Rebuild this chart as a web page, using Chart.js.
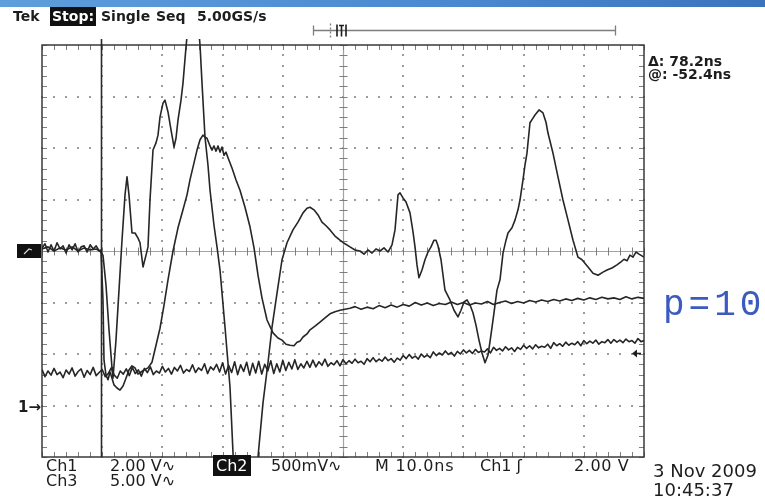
<!DOCTYPE html>
<html>
<head>
<meta charset="utf-8">
<script src="https://cdn.jsdelivr.net/npm/chart.js@4.4.1/dist/chart.umd.min.js"></script>
<style>
  html, body { margin: 0; padding: 0; background: #fff; }
  #scope { position: relative; width: 765px; height: 498px; overflow: hidden; background: #fff; }
  #scope canvas { position: absolute; left: 0; top: 0; }
  #bar { position: absolute; left: 0; top: 0; width: 765px; height: 7px;
         background: linear-gradient(90deg, #5e9edc, #4a88d0 60%, #3b74bd); }
  .t { position: absolute; white-space: nowrap; color: #1d1d1d; line-height: 1; }
  .hdr { font: bold 14px "DejaVu Sans", sans-serif; top: 8px; }
  .inv { background: #111; color: #fff; }
  .ro { font: bold 14px "DejaVu Sans", sans-serif; }
  .bt { font: 16px "DejaVu Sans", sans-serif; }
  .dt { font: 18px "DejaVu Sans", sans-serif; }
  .p10 { font: 36px "Liberation Mono", monospace; color: #3b5bbf; letter-spacing: 4px; }
</style>
</head>
<body>
<div id="scope">
  <canvas id="c" width="765" height="498"></canvas>
  <div id="bar"></div>

  <div class="t hdr" style="left:13px">Tek</div>
  <div class="t hdr inv" style="left:50px;top:7px;padding:1px 2px 2px 2px">Stop:</div>
  <div class="t hdr" style="left:101px">Single</div>
  <div class="t hdr" style="left:156px">Seq</div>
  <div class="t hdr" style="left:197px">5.00GS/s</div>

  <div class="t ro" style="left:648px;top:53px">Δ: 78.2ns</div>
  <div class="t ro" style="left:648px;top:66px">@: -52.4ns</div>

  <div class="t p10" style="left:663px;top:285px">p=10</div>

  <div class="t bt" style="left:46px;top:456px">Ch1</div>
  <div class="t bt" style="left:110px;top:456px">2.00 V∿</div>
  <div class="t bt inv" style="left:213px;top:455px;padding:1px 3px">Ch2</div>
  <div class="t bt" style="left:271px;top:456px">500mV∿</div>
  <div class="t bt" style="left:375px;top:456px;letter-spacing:0.8px">M 10.0ns</div>
  <div class="t bt" style="left:480px;top:456px">Ch1 ʃ</div>
  <div class="t bt" style="left:574px;top:456px;letter-spacing:0.6px">2.00 V</div>
  <div class="t bt" style="left:46px;top:471px">Ch3</div>
  <div class="t bt" style="left:110px;top:471px">5.00 V∿</div>

  <div class="t dt" style="left:653px;top:460px">3 Nov 2009</div>
  <div class="t dt" style="left:653px;top:479px">10:45:37</div>

  <div class="t" style="left:18px;top:398px;font:bold 15px 'DejaVu Sans',sans-serif">1→</div>
</div>

<script>
// ---- Acquisition record (time in ns across the 10 divisions, amplitude in screen divisions) ----

// Channel 1: fast ringing trace
const ch1Time = [0,1,2,3,4,5,6,7,8,9,9.6,10.13,10.63,11.13,11.63,11.79,
  12.29,12.79,13.29,13.79,14.12,14.45,14.95,15.45,15.95,16.28,
  16.78,17.28,17.61,17.94,18.44,18.94,19.27,19.6,20.1,20.43,
  20.93,21.43,21.93,22.26,22.59,23.09,23.42,23.92,24.42,25.08,
  25.75,26.25,26.58,27.08,27.57,27.91,28.57,29.07,29.57,30.4,
  31.23,31.73,32.23,33.89,35.38,35.88,36.71,37.54,38.21,39.04,
  39.87,40.7,41.69,42.52,43.36,44.02,44.52,45.18,45.85,46.51,
  47.18,47.84,48.67,49.5,50.33,51.16,51.99,52.82,53.49,54.15,
  54.82,55.48,56.15,56.81,57.48,58.14,58.64,59.14,59.47,59.97,
  60.47,61.13,61.63,61.96,62.29,62.62,63.12,63.62,64.12,64.62,
  65.12,65.45,65.78,66.28,66.94,67.77,68.44,69.1,69.6,70.1,
  70.6,71.1,71.59,72.09,72.59,73.09,73.59,74.09,74.58,75.08,
  75.58,76.08,76.58,77.08,77.41,78.07,78.57,79.07,79.4,79.9,
  80.23,80.56,81.06,81.56,81.89,82.56,83.22,83.72,84.05,84.88,
  85.71,86.54,87.38,88.21,89.04,89.7,90.7,91.53,92.36,93.19,
  93.85,94.68,95.51,96.18,96.68,97.18,97.67,98.17,98.67,99.17,100];
const ch1Div = [0.04,0.08,0,0.06,0.02,0.08,0,0.06,0.02,0.04,0,-0.08,-0.66,-1.53,-2.27,-2.47,
  -1.73,-0.76,0.21,1.09,1.44,1.09,0.35,0.35,0.25,0.16,
  -0.31,-0.08,0.08,0.99,1.96,2.10,2.25,2.60,2.87,2.93,
  2.70,2.35,2.02,2.19,2.54,2.93,3.26,3.96,4.58,5.07,
  4.68,4.0,3.26,2.21,1.67,1.18,0.50,0.08,-0.37,-1.48,
  -2.64,-3.92,-4.83,-5.61,-4.83,-4.0,-2.95,-2.17,-1.48,-0.82,
  -0.17,0.16,0.41,0.56,0.74,0.83,0.85,0.80,0.70,0.56,
  0.49,0.41,0.29,0.21,0.14,0.08,0.02,0,-0.06,0.02,
  -0.04,0.04,0,0.06,-0.02,0.12,0.41,1.09,1.13,1.03,
  0.95,0.74,0.37,0.08,-0.27,-0.52,-0.37,-0.17,-0.02,0.08,
  0.21,0.21,0.10,-0.17,-0.76,-0.95,-1.15,-1.28,-1.15,-0.99,
  -0.95,-1.05,-1.20,-1.44,-1.73,-1.98,-2.17,-2.02,-1.63,-1.20,
  -0.76,-0.56,-0.04,0.21,0.35,0.45,0.60,0.80,0.99,1.38,
  1.67,1.90,2.49,2.58,2.64,2.74,2.68,2.50,2.29,1.90,
  1.44,0.99,0.60,0.21,-0.12,-0.17,-0.31,-0.43,-0.47,-0.41,
  -0.37,-0.33,-0.27,-0.21,-0.16,-0.19,-0.08,-0.12,-0.02,-0.06,-0.12];

// Channel 2: slower pulse with noisy baseline
const ch2Time = [0,0.5,1,1.5,2,2.5,3,3.5,4,4.5,5,5.5,6,6.5,7,7.5,8,8.5,9,9.5,
  9.8,10.13,10.3,10.63,10.96,11.3,11.63,11.96,12.46,12.96,
  13.46,13.95,14.45,14.95,15.45,15.95,16.45,16.94,17.61,18.27,
  18.94,19.6,20.27,20.93,21.76,22.59,23.42,24.09,24.58,25.25,
  25.75,26.25,26.74,27.08,27.41,27.91,28.24,28.57,28.9,29.24,
  29.57,29.9,30.23,30.56,30.9,31.56,32.23,32.89,33.72,34.55,
  35.22,35.88,36.54,37.38,38.37,39.2,39.87,40.53,41.2,41.86,
  42.36,42.86,43.36,44.02,44.52,45.35,46.18,47.01,47.84,48.67,
  49.5,50.33,51.16,
  52,53,54,55,56,57,58,59,60,61,62,63,64,65,66,67,68,69,70,71,72,73,74,75,76,
  77,78,79,80,81,82,83,84,85,86,87,88,89,90,91,92,93,94,95,96,97,98,99,100];
const ch2Div = [0.06,0.14,-0.02,0.12,0.0,0.16,0.04,0.10,-0.04,0.12,0.02,0.14,-0.02,0.08,0.10,-0.02,0.12,0.04,0.10,0.0,
  0.02,-0.95,-2.12,-2.41,-2.50,-2.35,-2.47,-2.60,-2.66,-2.70,
  -2.62,-2.47,-2.31,-2.23,-2.27,-2.39,-2.35,-2.31,-2.27,-2.16,
  -1.83,-1.50,-1.05,-0.56,0.0,0.45,0.80,1.09,1.38,1.71,
  1.96,2.16,2.25,2.21,2.19,2.04,1.96,2.04,1.94,2.04,
  1.92,2.02,1.86,1.92,1.81,1.61,1.38,1.18,0.85,0.47,
  0.06,-0.47,-0.91,-1.34,-1.59,-1.69,-1.73,-1.81,-1.83,-1.84,
  -1.77,-1.75,-1.67,-1.61,-1.53,-1.46,-1.38,-1.30,-1.22,-1.18,
  -1.15,-1.13,-1.11,
  -1.08,-1.13,-1.09,-1.12,-1.06,-1.10,-1.05,-1.09,-1.04,-1.07,-1.00,-1.05,-1.01,-1.06,-1.02,-1.04,-0.99,-1.04,-1.00,-1.05,-1.01,-1.03,-0.98,-1.04,-1.00,
  -0.97,-1.02,-0.98,-1.01,-0.96,-0.99,-0.95,-0.98,-0.94,-0.97,-0.93,-0.96,-0.92,-0.95,-0.91,-0.94,-0.90,-0.93,-0.91,-0.94,-0.89,-0.93,-0.90,-0.92];

// Channel 3: noisy slow ramp, one sample every 0.5 ns
const ch3SamplePeriod = 0.5;
const ch3Div = [
  -2.30,-2.44,-2.33,-2.41,-2.28,-2.40,-2.35,-2.46,-2.31,-2.39,
  -2.27,-2.43,-2.34,-2.29,-2.45,-2.32,-2.40,-2.26,-2.42,-2.36,
  -2.30,-2.44,-2.38,-2.27,-2.41,-2.47,-2.33,-2.39,-2.29,-2.42,
  -2.26,-2.38,-2.31,-2.43,-2.28,-2.36,-2.25,-2.40,-2.33,-2.37,
  -2.24,-2.35,-2.28,-2.39,-2.26,-2.33,-2.22,-2.37,-2.30,-2.34,
  -2.21,-2.36,-2.27,-2.32,-2.19,-2.38,-2.25,-2.31,-2.20,-2.35,
  -2.17,-2.39,-2.22,-2.36,-2.15,-2.40,-2.21,-2.34,-2.16,-2.41,
  -2.18,-2.37,-2.14,-2.39,-2.20,-2.33,-2.13,-2.38,-2.19,-2.35,
  -2.12,-2.32,-2.16,-2.29,-2.11,-2.30,-2.19,-2.27,-2.14,-2.26,
  -2.12,-2.25,-2.15,-2.22,-2.10,-2.24,-2.17,-2.21,-2.13,-2.23,
  -2.11,-2.19,-2.13,-2.18,-2.10,-2.17,-2.14,-2.20,-2.09,-2.15,
  -2.07,-2.15,-2.10,-2.14,-2.06,-2.13,-2.09,-2.16,-2.08,-2.12,
  -2.03,-2.09,-2.01,-2.08,-2.04,-2.10,-2.00,-2.06,-2.02,-2.07,
  -1.96,-2.03,-1.98,-2.02,-1.94,-2.01,-1.97,-2.04,-1.95,-2.00,
  -1.92,-1.98,-1.93,-1.99,-1.91,-1.97,-1.94,-1.96,-1.90,-1.98,
  -1.87,-1.93,-1.89,-1.94,-1.86,-1.92,-1.88,-1.95,-1.87,-1.91,
  -1.83,-1.89,-1.84,-1.90,-1.82,-1.88,-1.85,-1.87,-1.81,-1.89,
  -1.78,-1.84,-1.80,-1.85,-1.77,-1.83,-1.79,-1.82,-1.76,-1.84,
  -1.74,-1.80,-1.75,-1.79,-1.73,-1.81,-1.76,-1.78,-1.72,-1.79,
  -1.72,-1.77,-1.73,-1.78,-1.71,-1.76,-1.74,-1.79,-1.70,-1.76,
  -1.74];

// Screen markers
const cursorTime = 9.8;      // vertical cursor
const ch2Ground = 0;         // boxed channel marker on the left
const ch1Ground = -3;        // "1→" marker
const trigLevel = -1.98;     // trigger level arrow on the right

const timeSpan = [0, 100];   // 10 ns/div x 10 div
const divSpan = [-4, 4];     // 8 vertical divisions

const toPoints = (ts, vs) => ts.map((t, i) => ({ x: t, y: vs[i] }));
const ch3Points = ch3Div.map((v, i) => ({ x: i * ch3SamplePeriod, y: v }));

// Graticule, cursor and screen markers
const scopeScreen = {
  id: 'scopeScreen',
  beforeDatasetsDraw(chart) {
    const { ctx, chartArea: a, scales: { x, y } } = chart;
    const X = v => Math.round(x.getPixelForValue(v)) + 0.5;
    const Y = v => Math.round(y.getPixelForValue(v)) + 0.5;
    ctx.save();

    // dotted division lines
    ctx.fillStyle = '#9c9c9c';
    for (let d = 1; d < 10; d++) {
      if (d === 5) continue;
      const px = x.getPixelForValue(d * 10);
      for (let k = 0; k <= 40; k++) {
        const py = y.getPixelForValue(-4 + k * 0.2);
        ctx.fillRect(Math.round(px) - 1, Math.round(py) - 1, 2, 2);
      }
    }
    for (let d = -3; d <= 3; d++) {
      if (d === 0) continue;
      const py = y.getPixelForValue(d);
      for (let k = 0; k <= 50; k++) {
        const px = x.getPixelForValue(k * 2);
        ctx.fillRect(Math.round(px) - 1, Math.round(py) - 1, 2, 2);
      }
    }

    // centre cross with minor ticks
    ctx.strokeStyle = '#a3a3a3';
    ctx.lineWidth = 1.2;
    ctx.beginPath();
    ctx.moveTo(a.left, Y(0)); ctx.lineTo(a.right, Y(0));
    ctx.moveTo(X(50), a.top); ctx.lineTo(X(50), a.bottom);
    ctx.stroke();
    ctx.strokeStyle = '#7e7e7e';
    ctx.lineWidth = 1;
    ctx.beginPath();
    for (let k = 0; k <= 50; k++) {
      const px = X(k * 2);
      ctx.moveTo(px, Y(0) - 4); ctx.lineTo(px, Y(0) + 4);
    }
    for (let k = 0; k <= 40; k++) {
      const py = Y(-4 + k * 0.2);
      ctx.moveTo(X(50) - 4, py); ctx.lineTo(X(50) + 4, py);
    }
    // border ticks
    for (let k = 0; k <= 50; k++) {
      const px = X(k * 2);
      ctx.moveTo(px, a.top); ctx.lineTo(px, a.top + 5);
      ctx.moveTo(px, a.bottom); ctx.lineTo(px, a.bottom - 5);
    }
    for (let k = 0; k <= 40; k++) {
      const py = Y(-4 + k * 0.2);
      ctx.moveTo(a.left, py); ctx.lineTo(a.left + 5, py);
      ctx.moveTo(a.right, py); ctx.lineTo(a.right - 5, py);
    }
    ctx.stroke();

    // border
    ctx.strokeStyle = '#3a3a3a';
    ctx.lineWidth = 1.5;
    ctx.strokeRect(a.left, a.top, a.right - a.left, a.bottom - a.top);

    // vertical cursor
    ctx.strokeStyle = '#2a2a2a';
    ctx.lineWidth = 1.6;
    ctx.beginPath();
    ctx.moveTo(X(cursorTime), a.top - 6);
    ctx.lineTo(X(cursorTime), a.bottom);
    ctx.stroke();
    ctx.restore();
  },
  afterDraw(chart) {
    const { ctx, chartArea: a, scales: { x, y } } = chart;
    ctx.save();
    // boxed ground marker for channel 2
    const gy = Math.round(y.getPixelForValue(ch2Ground));
    ctx.fillStyle = '#111';
    ctx.fillRect(a.left - 25, gy - 7, 24, 14);
    ctx.strokeStyle = '#d8d8d8';
    ctx.lineWidth = 1.2;
    ctx.beginPath();
    ctx.moveTo(a.left - 18, gy + 3); ctx.lineTo(a.left - 13, gy - 2); ctx.lineTo(a.left - 10, gy - 1);
    ctx.stroke();

    // trigger level arrow
    const ty = Math.round(y.getPixelForValue(trigLevel)) + 0.5;
    ctx.strokeStyle = '#1d1d1d';
    ctx.fillStyle = '#1d1d1d';
    ctx.lineWidth = 1.6;
    ctx.beginPath();
    ctx.moveTo(a.right - 3, ty); ctx.lineTo(a.right - 9, ty);
    ctx.stroke();
    ctx.beginPath();
    ctx.moveTo(a.right - 12, ty); ctx.lineTo(a.right - 7, ty - 4); ctx.lineTo(a.right - 7, ty + 4);
    ctx.closePath(); ctx.fill();

    // record / trigger position bar above the screen
    const by = 30.5;
    ctx.strokeStyle = '#7d7d7d';
    ctx.lineWidth = 1.3;
    ctx.beginPath();
    ctx.moveTo(313, by); ctx.lineTo(615, by);
    ctx.moveTo(313.5, by - 5); ctx.lineTo(313.5, by + 5);
    ctx.moveTo(615.5, by - 5); ctx.lineTo(615.5, by + 5);
    ctx.stroke();
    ctx.setLineDash([2, 2]);
    ctx.beginPath();
    ctx.moveTo(330.5, by - 7); ctx.lineTo(330.5, by + 7);
    ctx.stroke();
    ctx.setLineDash([]);
    ctx.strokeStyle = '#1d1d1d';
    ctx.lineWidth = 1.6;
    ctx.beginPath();
    ctx.moveTo(337, by - 6); ctx.lineTo(337, by + 6);
    ctx.moveTo(346, by - 6); ctx.lineTo(346, by + 6);
    ctx.moveTo(339, by - 5); ctx.lineTo(344, by - 5);
    ctx.moveTo(341.5, by - 5); ctx.lineTo(341.5, by + 6);
    ctx.stroke();
    ctx.restore();
  }
};

const traceStyle = {
  showLine: true,
  pointRadius: 0,
  borderColor: '#262626',
  borderWidth: 1.6,
  borderJoinStyle: 'round',
  tension: 0,
  clip: { left: 0, top: 6, right: 0, bottom: 0 }
};

new Chart(document.getElementById('c'), {
  type: 'scatter',
  data: {
    datasets: [
      { label: 'Ch3', data: ch3Points, ...traceStyle },
      { label: 'Ch2', data: toPoints(ch2Time, ch2Div), ...traceStyle },
      { label: 'Ch1', data: toPoints(ch1Time, ch1Div), ...traceStyle }
    ]
  },
  options: {
    responsive: false,
    devicePixelRatio: 1,
    animation: false,
    layout: { padding: { left: 42, right: 121, top: 45, bottom: 41 } },
    scales: {
      x: { type: 'linear', min: timeSpan[0], max: timeSpan[1], display: false },
      y: { type: 'linear', min: divSpan[0], max: divSpan[1], display: false }
    },
    plugins: { legend: { display: false }, tooltip: { enabled: false } }
  },
  plugins: [scopeScreen]
});
</script>
</body>
</html>
